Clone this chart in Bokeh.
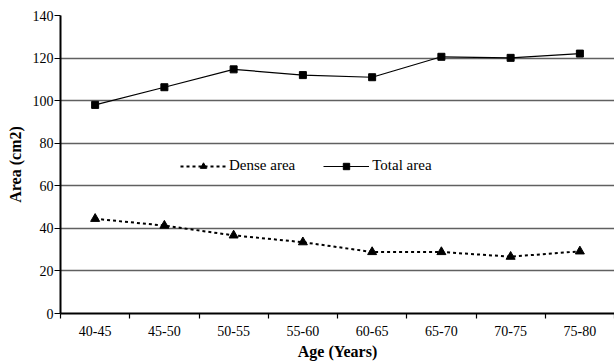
from bokeh.plotting import figure
from bokeh.models import Range1d, FixedTicker, Legend, LegendItem
from bokeh.embed import file_html
from bokeh.resources import INLINE

ages = ["40-45", "45-50", "50-55", "55-60", "60-65", "65-70", "70-75", "75-80"]
total_area = [98, 106.3, 114.7, 112, 111, 120.6, 120.1, 122.1]
dense_area = [44.5, 41.3, 36.7, 33.5, 28.9, 28.9, 26.7, 29.2]
y_ticks = [0, 20, 40, 60, 80, 100, 120, 140]

xpos = [i + 0.5 for i in range(len(ages))]
bounds = list(range(len(ages) + 1))

FONT = "serif"

p = figure(width=614, height=362, output_backend="svg", toolbar_location=None,
           x_range=Range1d(0, len(ages)), y_range=Range1d(0, 140),
           min_border_left=60, min_border_right=0, min_border_top=15, min_border_bottom=47)
p.outline_line_color = None
p.background_fill_color = "white"

p.xgrid.grid_line_color = None
p.ygrid.grid_line_color = "#606060"
p.ygrid.grid_line_width = 1.3
p.ygrid.ticker = FixedTicker(ticks=y_ticks)

p.yaxis.ticker = FixedTicker(ticks=y_ticks, minor_ticks=[])
p.yaxis.axis_line_color = "black"
p.yaxis.axis_line_width = 2
p.yaxis.major_tick_out = 6
p.yaxis.major_tick_in = 0
p.yaxis.major_tick_line_width = 1.2
p.yaxis.minor_tick_line_color = None
p.yaxis.major_label_text_font = FONT
p.yaxis.major_label_text_font_size = "14px"
p.yaxis.major_label_text_color = "black"
p.yaxis.major_label_standoff = 1
p.yaxis.axis_label = "Area (cm2)"
p.yaxis.axis_label_text_font = FONT
p.yaxis.axis_label_text_font_size = "16px"
p.yaxis.axis_label_text_font_style = "bold"
p.yaxis.axis_label_text_color = "black"
p.yaxis.axis_label_standoff = 6

p.xaxis.ticker = FixedTicker(ticks=xpos, minor_ticks=bounds)
p.xaxis.major_label_overrides = {x: a for x, a in zip(xpos, ages)}
p.xaxis.major_tick_line_color = None
p.xaxis.minor_tick_out = 5
p.xaxis.minor_tick_in = 0
p.xaxis.minor_tick_line_color = "black"
p.xaxis.minor_tick_line_width = 1.2
p.xaxis.axis_line_color = "black"
p.xaxis.axis_line_width = 2.2
p.xaxis.major_label_text_font = FONT
p.xaxis.major_label_text_font_size = "14px"
p.xaxis.major_label_text_color = "black"
p.xaxis.major_label_standoff = 6
p.xaxis.axis_label = "Age (Years)"
p.xaxis.axis_label_text_font = FONT
p.xaxis.axis_label_text_font_size = "16px"
p.xaxis.axis_label_text_font_style = "bold"
p.xaxis.axis_label_text_color = "black"
p.xaxis.axis_label_standoff = 4

dl = p.line(xpos, dense_area, line_color="black", line_width=2, line_dash="3 3")
dm = p.scatter(xpos, dense_area, marker="triangle", size=9, color="black")
tl = p.line(xpos, total_area, line_color="black", line_width=1.2)
tm = p.scatter(xpos, total_area, marker="square", size=7, color="black")

legend = Legend(items=[LegendItem(label="Dense area", renderers=[dl, dm]),
                       LegendItem(label="Total area", renderers=[tl, tm])],
                orientation="horizontal", location=(120, 139),
                border_line_color=None, background_fill_alpha=0,
                glyph_width=46, glyph_height=16, spacing=28,
                label_text_font=FONT, label_text_font_size="15px",
                label_text_color="black", label_standoff=3, padding=0, margin=0)
p.add_layout(legend, "center")

open("out.html", "w").write(file_html(p, INLINE))
